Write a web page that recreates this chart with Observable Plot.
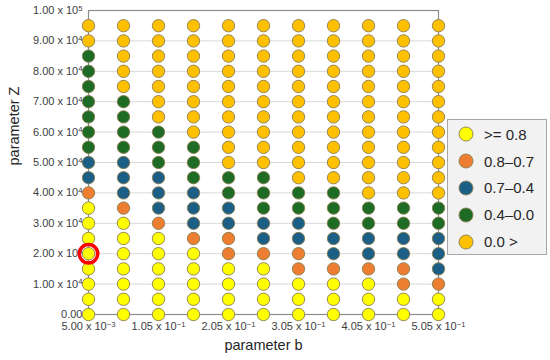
<!DOCTYPE html>
<html>
<head>
<meta charset="utf-8">
<script src="https://cdn.jsdelivr.net/npm/d3@7"></script>
<script src="https://cdn.jsdelivr.net/npm/@observablehq/plot@0.6"></script>
<style>
  html, body { margin: 0; padding: 0; background: #ffffff; }
  body { font-family: "Liberation Sans", Arial, sans-serif; }
  #wrap { position: relative; width: 550px; height: 360px; overflow: hidden; }
  #legend {
    position: absolute; left: 447px; top: 119px; width: 100px; height: 136px;
    box-sizing: border-box; background: #f2f2f2; border: 1px solid #a6a6a6;
    padding-top: 1px;
  }
  .item { display: flex; align-items: center; height: 26.8px; }
  .item svg { margin-left: 10px; margin-right: 10px; }
  .item span { font-size: 15px; color: #262626; line-height: 1; }
</style>
</head>
<body>
<div id="wrap"><div id="chart"></div><div id="legend"></div></div>
<script>
// ---- data ----
const paramB = [0.005, 0.055, 0.105, 0.155, 0.205, 0.255, 0.305, 0.355, 0.405, 0.455, 0.505];
const paramZ = [0, 5000, 10000, 15000, 20000, 25000, 30000, 35000, 40000, 45000,
                50000, 55000, 60000, 65000, 70000, 75000, 80000, 85000, 90000, 95000];

// class codes: Y ">= 0.8", O "0.8–0.7", B "0.7–0.4", G "0.4–0.0", A "0.0 >"
const classCodes = ["Y", "O", "B", "G", "A"];
const classLabels = [">= 0.8", "0.8\u20130.7", "0.7\u20130.4", "0.4\u20130.0", "0.0 >"];
const classColors = ["#ffff00", "#ed7d31", "#1b5e86", "#1d6b25", "#ffc000"];

// one string per column of paramB; characters go from Z = 0 (first) up to Z = 95000 (last)
const classGrid = [
  "YYYYYYYYOBBGGGGGGGAA",
  "YYYYYYYOBBBGGGGAAAAA",
  "YYYYYYOBBBGGGAAAAAAA",
  "YYYYYOBBBGGGAAAAAAAA",
  "YYYYOOBBGGAAAAAAAAAA",
  "YYYYOBBGGGAAAAAAAAAA",
  "YYYOOBBGGAAAAAAAAAAA",
  "YYYOBBGGGAAAAAAAAAAA",
  "YYYOBBGGAAAAAAAAAAAA",
  "YYOOBBGGAAAAAAAAAAAA",
  "YYOBBBGGAAAAAAAAAAAA"
];

const highlightB = [0.005];
const highlightZ = [20000];

const xTicks = [0.005, 0.105, 0.205, 0.305, 0.405, 0.505];
const xTickLabels = ["5.00 x 10^-3", "1.05 x 10^-1", "2.05 x 10^-1", "3.05 x 10^-1", "4.05 x 10^-1", "5.05 x 10^-1"];
const yTicks = [0, 10000, 20000, 30000, 40000, 50000, 60000, 70000, 80000, 90000, 100000];
const yTickLabels = ["0.00", "1.00 x 10^4", "2.00 x 10^4", "3.00 x 10^4", "4.00 x 10^4", "5.00 x 10^4",
                     "6.00 x 10^4", "7.00 x 10^4", "8.00 x 10^4", "9.00 x 10^4", "1.00 x 10^5"];

const xTitle = "parameter b";
const yTitle = "parameter Z";

// ---- build table ----
const points = [];
paramB.forEach((b, i) => {
  paramZ.forEach((z, j) => {
    points.push({ b, z, cls: classGrid[i][j] });
  });
});
const highlight = highlightB.map((b, i) => ({ b, z: highlightZ[i] }));

const xLab = new Map(xTicks.map((v, i) => [v, xTickLabels[i]]));
const yLab = new Map(yTicks.map((v, i) => [v, yTickLabels[i]]));

const chart = Plot.plot({
  width: 550,
  height: 360,
  marginLeft: 88,
  marginRight: 112,
  marginTop: 10,
  marginBottom: 46,
  style: { fontFamily: "'Liberation Sans', Arial, sans-serif", fontSize: "11px", color: "#404040", background: "transparent", overflow: "visible" },
  x: { domain: [0.005, 0.505] },
  y: { domain: [0, 100000] },
  color: { domain: classCodes, range: classColors },
  marks: [
    Plot.gridY(yTicks, { stroke: "#d9d9d9", strokeOpacity: 1 }),
    Plot.frame({ stroke: "#8c8c8c", strokeWidth: 1.2 }),
    Plot.axisX(xTicks, { tickSize: 0, tickPadding: 8, tickFormat: d => xLab.get(d), label: null, fill: "#404040" }),
    Plot.axisY(yTicks, { tickSize: 0, tickPadding: 6, tickFormat: d => yLab.get(d), label: null, fill: "#404040" }),
    Plot.dot(points, { x: "b", y: "z", fill: "cls", r: 6.2, stroke: "#8a7d50", strokeWidth: 0.9 }),
    Plot.dot(highlight, { x: "b", y: "z", r: 9.2, fill: "none", stroke: "#ff0000", strokeWidth: 3.6 }),
    Plot.text([xTitle], { text: d => d, frameAnchor: "bottom", dy: 35, fontSize: 14.5, fill: "#262626" }),
    Plot.text([yTitle], { text: d => d, frameAnchor: "left", rotate: -90, dx: -74, dy: 3, fontSize: 14.5, fill: "#262626" })
  ]
});

// render "10^n" as a real superscript
d3.select(chart).selectAll("text").each(function () {
  const t = this.textContent;
  if (t.includes("^")) {
    const [base, exp] = t.split("^");
    const sel = d3.select(this);
    sel.text(null);
    sel.append("tspan").text(base);
    sel.append("tspan").attr("dy", "-0.45em").attr("font-size", "0.7em").text(exp.replace("-", "\u2212"));
  }
});

document.getElementById("chart").appendChild(chart);

// legend
const legend = d3.select("#legend");
classCodes.forEach((c, i) => {
  const item = legend.append("div").attr("class", "item");
  const s = item.append("svg").attr("width", 16).attr("height", 16);
  s.append("circle").attr("cx", 8).attr("cy", 8).attr("r", 7)
    .attr("fill", classColors[i]).attr("stroke", "#8a7d50").attr("stroke-width", 0.9);
  item.append("span").text(classLabels[i]);
});
</script>
</body>
</html>
